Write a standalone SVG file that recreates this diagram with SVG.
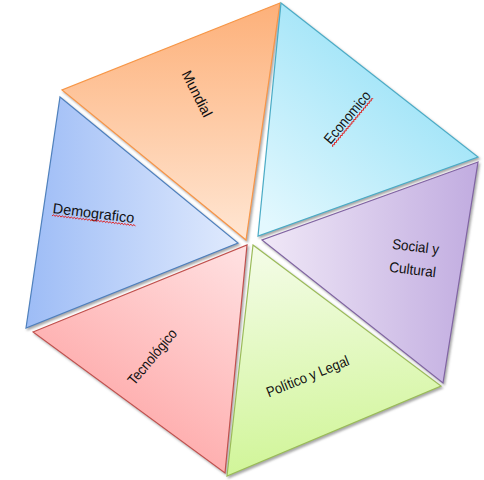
<svg xmlns="http://www.w3.org/2000/svg" width="484" height="480" viewBox="0 0 484 480">
<style>
.tri{stroke-width:1.2;stroke-linejoin:miter;filter:url(#sh)}
.lbl{font-family:"Liberation Sans",Arial,sans-serif;font-size:14.5px;fill:#111;text-anchor:middle}
.wave{fill:none;stroke:#e02020;stroke-width:0.9}
</style>
<defs>
<filter id="sh" x="-10%" y="-10%" width="120%" height="120%">
<feDropShadow dx="1.5" dy="1.8" stdDeviation="0.9" flood-color="#808080" flood-opacity="0.7"/>
</filter>
<linearGradient id="gO" x1="0" y1="0" x2="0" y2="1"><stop offset="0" stop-color="#fdb079"/><stop offset="1" stop-color="#ffe6d3"/></linearGradient>
<linearGradient id="gC" x1="0.8" y1="0.1" x2="0.1" y2="1"><stop offset="0" stop-color="#90dff6"/><stop offset="1" stop-color="#e3f8fe"/></linearGradient>
<linearGradient id="gB" x1="0" y1="0" x2="1" y2="0"><stop offset="0" stop-color="#9dbcf6"/><stop offset="1" stop-color="#e0eafd"/></linearGradient>
<linearGradient id="gP" x1="0" y1="0" x2="1" y2="0"><stop offset="0" stop-color="#f0e8f7"/><stop offset="1" stop-color="#c1ace0"/></linearGradient>
<linearGradient id="gR" x1="0.9" y1="0" x2="0.3" y2="1"><stop offset="0" stop-color="#ffdfe0"/><stop offset="1" stop-color="#fe9f9f"/></linearGradient>
<linearGradient id="gG" x1="0.2" y1="0" x2="0.3" y2="1"><stop offset="0" stop-color="#f4fce8"/><stop offset="1" stop-color="#d0f597"/></linearGradient>
</defs>
<g id="connectors"></g>
<g id="mundial">
<polygon class="tri" points="280,3 62,90 246,240" fill="url(#gO)" stroke="#f79646"/>
<text class="lbl" transform="translate(192.5,96) rotate(63)" textLength="50" lengthAdjust="spacingAndGlyphs">Mundial</text>
</g>
<g id="economico">
<polygon class="tri" points="281,3 478,157 258,236" fill="url(#gC)" stroke="#4bacc6"/>
<g transform="translate(351,120.5) rotate(-50)">
<text class="lbl" x="0" y="0" textLength="64" lengthAdjust="spacingAndGlyphs">Economico</text>
<path class="wave" d="M-32,3 l1.5,-1.5 1.5,1.5 1.5,-1.5 1.5,1.5 1.5,-1.5 1.5,1.5 1.5,-1.5 1.5,1.5 1.5,-1.5 1.5,1.5 1.5,-1.5 1.5,1.5 1.5,-1.5 1.5,1.5 1.5,-1.5 1.5,1.5 1.5,-1.5 1.5,1.5 1.5,-1.5 1.5,1.5 1.5,-1.5 1.5,1.5 1.5,-1.5 1.5,1.5 1.5,-1.5 1.5,1.5 1.5,-1.5 1.5,1.5 1.5,-1.5 1.5,1.5 1.5,-1.5 1.5,1.5 1.5,-1.5 1.5,1.5 1.5,-1.5 1.5,1.5 1.5,-1.5 1.5,1.5 1.5,-1.5 1.5,1.5 1.5,-1.5 1.5,1.5"/>
</g>
</g>
<g id="demografico">
<polygon class="tri" points="60,97 238,243 26,328" fill="url(#gB)" stroke="#4f81bd"/>
<g transform="translate(93,218) rotate(7)">
<text class="lbl" x="0" y="0" textLength="82" lengthAdjust="spacingAndGlyphs">Demografico</text>
<path class="wave" d="M-41,3 l1.5,-1.5 1.5,1.5 1.5,-1.5 1.5,1.5 1.5,-1.5 1.5,1.5 1.5,-1.5 1.5,1.5 1.5,-1.5 1.5,1.5 1.5,-1.5 1.5,1.5 1.5,-1.5 1.5,1.5 1.5,-1.5 1.5,1.5 1.5,-1.5 1.5,1.5 1.5,-1.5 1.5,1.5 1.5,-1.5 1.5,1.5 1.5,-1.5 1.5,1.5 1.5,-1.5 1.5,1.5 1.5,-1.5 1.5,1.5 1.5,-1.5 1.5,1.5 1.5,-1.5 1.5,1.5 1.5,-1.5 1.5,1.5 1.5,-1.5 1.5,1.5 1.5,-1.5 1.5,1.5 1.5,-1.5 1.5,1.5 1.5,-1.5 1.5,1.5 1.5,-1.5 1.5,1.5 1.5,-1.5 1.5,1.5 1.5,-1.5 1.5,1.5 1.5,-1.5 1.5,1.5 1.5,-1.5 1.5,1.5 1.5,-1.5 1.5,1.5 1.5,-1.5 1.5,1.5"/>
</g>
</g>
<g id="social">
<polygon class="tri" points="478,162 262,240 443,383" fill="url(#gP)" stroke="#8064a2"/>
<text class="lbl" transform="translate(415,251.5) rotate(7)" textLength="47" lengthAdjust="spacingAndGlyphs">Social y</text>
<text class="lbl" transform="translate(412,274.5) rotate(7)" textLength="47" lengthAdjust="spacingAndGlyphs">Cultural</text>
</g>
<g id="tecnologico">
<polygon class="tri" points="33,332 247,245 225,473" fill="url(#gR)" stroke="#c0504d"/>
<text class="lbl" transform="translate(156,360) rotate(-50)" textLength="68" lengthAdjust="spacingAndGlyphs">Tecnológico</text>
</g>
<g id="politico">
<polygon class="tri" points="253,245 441,386 227,476" fill="url(#gG)" stroke="#9bbb59"/>
<text class="lbl" transform="translate(309.5,381) rotate(-22)" textLength="88" lengthAdjust="spacingAndGlyphs">Político y Legal</text>
</g>
</svg>
